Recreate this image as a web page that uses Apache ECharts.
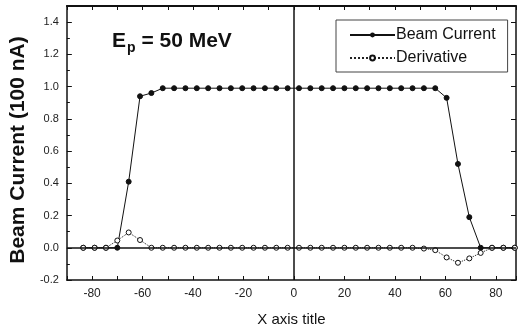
<!DOCTYPE html>
<html>
<head>
<meta charset="utf-8">
<script src="https://cdn.jsdelivr.net/npm/echarts@6/dist/echarts.min.js"></script>
<style>
html,body{margin:0;padding:0;background:#fff;}
#c{width:519px;height:332px;}
</style>
</head>
<body>
<div id="c"></div>
<script>
// Position (x axis), step ~4.5
const xVals = [-83.5, -79, -74.5, -70, -65.5, -61, -56.5, -52, -47.5, -43, -38.5, -34, -29.5, -25, -20.5, -16, -11.5, -7, -2.5, 2, 6.5, 11, 15.5, 20, 24.5, 29, 33.5, 38, 42.5, 47, 51.5, 56, 60.5, 65, 69.5, 74, 78.5, 83, 87.5];
const beamCurrent = [0, 0, 0, 0, 0.41, 0.94, 0.96, 0.99, 0.99, 0.99, 0.99, 0.99, 0.99, 0.99, 0.99, 0.99, 0.99, 0.99, 0.99, 0.99, 0.99, 0.99, 0.99, 0.99, 0.99, 0.99, 0.99, 0.99, 0.99, 0.99, 0.99, 0.99, 0.93, 0.52, 0.19, 0, 0, 0, 0];
const derivative = [0, 0, 0, 0.045, 0.095, 0.048, 0, 0, 0, 0, 0, 0, 0, 0, 0, 0, 0, 0, 0, 0, 0, 0, 0, 0, 0, 0, 0, 0, 0, 0, -0.005, -0.015, -0.06, -0.093, -0.066, -0.032, 0, 0, 0];
const xLabels = [-80, -60, -40, -20, 0, 20, 40, 60, 80];
const yLabels = [-0.2, 0.0, 0.2, 0.4, 0.6, 0.8, 1.0, 1.2, 1.4];

const FONT = '"Liberation Sans", Arial, sans-serif';
const pair = (ys) => xVals.map((x, i) => [x, ys[i]]);

const chart = echarts.init(document.getElementById('c'), null, {renderer: 'canvas'});
const xCommon = {type: 'value', min: -90, max: 88, interval: 10};
const yCommon = {type: 'value', min: -0.2, max: 1.5, interval: 0.2};
chart.setOption({
  animation: false,
  backgroundColor: '#fff',
  textStyle: {fontFamily: FONT},
  grid: {left: 66, top: 6, right: 0, bottom: 52},
  title: {
    left: 107, top: 26,
    text: '{b|E}{s|p}{b| = 50 MeV}',
    textStyle: {
      rich: {
        b: {fontFamily: FONT, fontSize: 21, fontWeight: 'bold', color: '#111', verticalAlign: 'top', lineHeight: 24},
        s: {fontFamily: FONT, fontSize: 14, fontWeight: 'bold', color: '#111', verticalAlign: 'bottom', lineHeight: 24, padding: [12, 0, 0, 1]}
      }
    }
  },
  legend: {
    left: 336, top: 20, orient: 'vertical',
    padding: [6, 12, 5, 13], itemGap: 5,
    itemWidth: 45, itemHeight: 6,
    borderColor: '#444', borderWidth: 1,
    textStyle: {fontFamily: FONT, fontSize: 16, color: '#111', padding: [0, 0, 0, -4], lineHeight: 18},
    data: ['Beam Current', 'Derivative']
  },
  xAxis: [
    Object.assign({}, xCommon, {
      position: 'bottom',
      name: 'X axis title', nameLocation: 'middle', nameGap: 32,
      nameTextStyle: {fontFamily: FONT, fontSize: 15, color: '#111'},
      axisLine: {onZero: false, lineStyle: {color: '#111', width: 1.5}},
      axisTick: {inside: true, length: 4, lineStyle: {color: '#111'}},
      axisLabel: {margin: 8, fontFamily: FONT, fontSize: 12, color: '#222',
        formatter: v => xLabels.includes(Math.round(v)) && Math.abs(v - Math.round(v)) < 1e-6 ? String(v) : ''},
      splitLine: {show: false}
    }),
    Object.assign({}, xCommon, {
      position: 'top',
      axisLine: {onZero: false, lineStyle: {color: '#111', width: 2}},
      axisTick: {inside: true, length: 4, lineStyle: {color: '#111'}},
      axisLabel: {show: false},
      splitLine: {show: false}
    })
  ],
  yAxis: [
    Object.assign({}, yCommon, {
      position: 'left',
      name: 'Beam Current (100 nA)', nameLocation: 'middle', nameGap: 36,
      nameTextStyle: {fontFamily: FONT, fontSize: 21, fontWeight: 'bold', color: '#111', padding: [0, 14, 0, 0]},
      axisLine: {show: true, onZero: false, lineStyle: {color: '#111', width: 1.5}},
      axisTick: {inside: true, length: 5, lineStyle: {color: '#111'}},
      minorTick: {show: true, splitNumber: 2, length: 3, lineStyle: {color: '#111'}},
      axisLabel: {margin: 8, fontFamily: FONT, fontSize: 11, color: '#222',
        formatter: v => yLabels.some(t => Math.abs(t - v) < 1e-6) ? v.toFixed(1) : ''},
      splitLine: {show: false}
    }),
    Object.assign({}, yCommon, {
      position: 'right',
      axisLine: {show: true, onZero: false, lineStyle: {color: '#111', width: 1.5}},
      axisTick: {inside: true, length: 5, lineStyle: {color: '#111'}},
      axisLabel: {show: false},
      splitLine: {show: false}
    })
  ],
  series: [
    {
      name: 'Beam Current', type: 'line', data: pair(beamCurrent),
      symbol: 'circle', symbolSize: 5, showAllSymbol: true,
      lineStyle: {color: '#111', width: 1},
      itemStyle: {color: '#111', borderColor: '#111'},
      z: 3,
      markLine: {
        silent: true, symbol: 'none', label: {show: false},
        lineStyle: {color: '#111', width: 1.5, type: 'solid'},
        data: [{yAxis: 0}, {xAxis: 0}]
      }
    },
    {
      name: 'Derivative', type: 'line', data: pair(derivative),
      symbol: 'circle', symbolSize: 5, showAllSymbol: true,
      lineStyle: {color: '#222', width: 1, type: 'dotted'},
      itemStyle: {color: '#fff', borderColor: '#111', borderWidth: 1},
      z: 4
    }
  ]
});
</script>
</body>
</html>
